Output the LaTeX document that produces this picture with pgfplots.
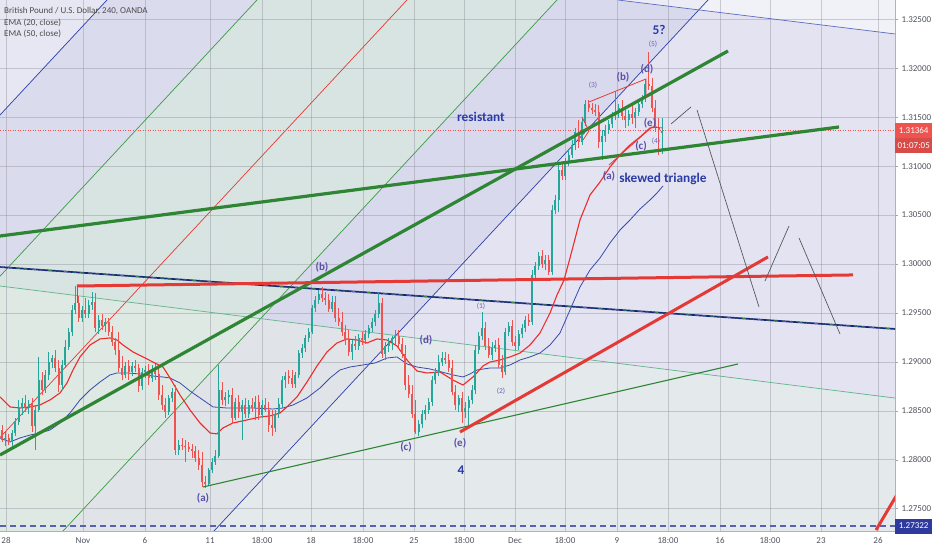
\documentclass[border=0pt]{standalone}
\usepackage{fontspec}
\setmainfont{Carlito}
\usepackage{pgfplots}
\usepackage{pgfplotstable}
\pgfplotsset{compat=1.18}

\definecolor{upc}{HTML}{26A69A}
\definecolor{dnc}{HTML}{EF5350}
\definecolor{ema20}{HTML}{EE2A2A}
\definecolor{ema50}{HTML}{3949AB}
\definecolor{tlgreen}{HTML}{2E8533}
\definecolor{tlred}{HTML}{E53935}
\definecolor{pfblue}{HTML}{2C3EA8}
\definecolor{pfgreen}{HTML}{3C9A46}
\definecolor{navy}{HTML}{1A237E}
\definecolor{chgreen}{HTML}{5FB58A}
\definecolor{chblue}{HTML}{5C6BC0}
\definecolor{bgpale}{HTML}{E7E7F3}
\definecolor{bglav}{HTML}{DBDBEE}
\definecolor{bggreen}{HTML}{D8E4E1}
\definecolor{bglav2}{HTML}{D9D9EE}
\definecolor{bgright}{HTML}{E3E3F2}
\definecolor{bglow}{HTML}{E6EEE6}
\definecolor{wave}{HTML}{5B4FA8}
\definecolor{wavesmall}{HTML}{6B63B5}
\definecolor{note}{HTML}{2B3CA6}
\definecolor{ticktxt}{HTML}{50535E}
\definecolor{lastblue}{HTML}{2E3A9E}

% GBPUSD 4h candles: x position, open, high, low, close
\pgfplotstableread{
x o h l c
2 1.2830 1.2835 1.2818 1.2820
5.3 1.2820 1.2828 1.2814 1.2822
8.7 1.2822 1.2826 1.2815 1.2818
12 1.2818 1.2830 1.2813 1.2827
15.3 1.2827 1.2843 1.2824 1.2838
18.7 1.2838 1.2861 1.2835 1.2853
22 1.2853 1.2863 1.2846 1.2858
25.3 1.2858 1.2866 1.2849 1.2853
28.7 1.2853 1.2861 1.2847 1.2857
32 1.2857 1.2863 1.2828 1.2834
35.3 1.2834 1.2856 1.2810 1.2851
38.7 1.2851 1.2905 1.2849 1.2881
42 1.2881 1.2890 1.2866 1.2871
45.3 1.2871 1.2892 1.2868 1.2887
48.7 1.2887 1.2910 1.2881 1.2900
52 1.2900 1.2907 1.2894 1.2904
55.3 1.2904 1.2912 1.2890 1.2894
58.7 1.2894 1.2902 1.2869 1.2876
62 1.2876 1.2902 1.2871 1.2897
65.3 1.2897 1.2922 1.2894 1.2915
68.7 1.2915 1.2935 1.2912 1.2930
72 1.2930 1.2958 1.2926 1.2953
75.3 1.2953 1.2978 1.2949 1.2960
78.7 1.2960 1.2967 1.2941 1.2945
82 1.2945 1.2957 1.2941 1.2953
85.3 1.2953 1.2965 1.2945 1.2949
88.7 1.2949 1.2963 1.2945 1.2958
92 1.2958 1.2971 1.2953 1.2961
95.3 1.2961 1.2970 1.2930 1.2935
98.7 1.2935 1.2948 1.2928 1.2943
102 1.2943 1.2949 1.2933 1.2937
105.3 1.2937 1.2945 1.2930 1.2941
108.7 1.2941 1.2945 1.2926 1.2930
112 1.2930 1.2937 1.2916 1.2920
115.3 1.2920 1.2924 1.2907 1.2912
118.7 1.2912 1.2930 1.2890 1.2894
122 1.2894 1.2906 1.2881 1.2887
125.3 1.2887 1.2900 1.2883 1.2896
128.7 1.2896 1.2902 1.2881 1.2890
132 1.2890 1.2900 1.2886 1.2896
135.3 1.2896 1.2902 1.2890 1.2894
138.7 1.2894 1.2898 1.2869 1.2875
142 1.2875 1.2894 1.2871 1.2890
145.3 1.2890 1.2896 1.2883 1.2892
148.7 1.2892 1.2898 1.2876 1.2883
152 1.2883 1.2897 1.2879 1.2892
155.3 1.2892 1.2898 1.2881 1.2888
158.7 1.2888 1.2894 1.2861 1.2866
162 1.2866 1.2876 1.2851 1.2856
165.3 1.2856 1.2863 1.2843 1.2849
168.7 1.2849 1.2866 1.2846 1.2863
172 1.2863 1.2873 1.2859 1.2869
175.3 1.2869 1.2876 1.2805 1.2810
178.7 1.2810 1.2820 1.2805 1.2815
182 1.2815 1.2822 1.2810 1.2814
185.3 1.2814 1.2820 1.2798 1.2813
188.7 1.2813 1.2818 1.2808 1.2811
192 1.2811 1.2816 1.2802 1.2809
195.3 1.2809 1.2814 1.2798 1.2802
198.7 1.2802 1.2810 1.2789 1.2795
202 1.2795 1.2808 1.2772 1.2777
205.3 1.2777 1.2783 1.2771 1.2775
208.7 1.2775 1.2791 1.2773 1.2789
212 1.2789 1.2802 1.2786 1.2798
215.3 1.2798 1.2810 1.2795 1.2804
218.7 1.2804 1.2897 1.2802 1.2871
222 1.2871 1.2879 1.2856 1.2861
225.3 1.2861 1.2869 1.2855 1.2864
228.7 1.2864 1.2871 1.2857 1.2866
232 1.2866 1.2873 1.2836 1.2843
235.3 1.2843 1.2863 1.2841 1.2859
238.7 1.2859 1.2866 1.2843 1.2849
242 1.2849 1.2861 1.2820 1.2856
245.3 1.2856 1.2863 1.2843 1.2847
248.7 1.2847 1.2861 1.2843 1.2856
252 1.2856 1.2863 1.2849 1.2853
255.3 1.2853 1.2865 1.2841 1.2859
258.7 1.2859 1.2866 1.2841 1.2846
262 1.2846 1.2861 1.2843 1.2856
265.3 1.2856 1.2863 1.2849 1.2851
268.7 1.2851 1.2859 1.2828 1.2835
272 1.2835 1.2851 1.2824 1.2832
275.3 1.2832 1.2851 1.2828 1.2847
278.7 1.2847 1.2863 1.2843 1.2857
282 1.2857 1.2886 1.2853 1.2881
285.3 1.2881 1.2890 1.2873 1.2886
288.7 1.2886 1.2892 1.2877 1.2883
292 1.2883 1.2892 1.2873 1.2877
295.3 1.2877 1.2890 1.2873 1.2887
298.7 1.2887 1.2912 1.2883 1.2909
302 1.2909 1.2918 1.2904 1.2914
305.3 1.2914 1.2927 1.2910 1.2924
308.7 1.2924 1.2935 1.2920 1.2930
312 1.2930 1.2958 1.2928 1.2955
315.3 1.2955 1.2967 1.2951 1.2963
318.7 1.2963 1.2973 1.2959 1.2969
322 1.2969 1.2976 1.2961 1.2965
325.3 1.2965 1.2971 1.2958 1.2963
328.7 1.2963 1.2969 1.2951 1.2954
332 1.2954 1.2967 1.2951 1.2961
335.3 1.2961 1.2967 1.2941 1.2945
338.7 1.2945 1.2955 1.2937 1.2941
342 1.2941 1.2951 1.2926 1.2930
345.3 1.2930 1.2938 1.2917 1.2922
348.7 1.2922 1.2933 1.2906 1.2910
352 1.2910 1.2922 1.2902 1.2918
355.3 1.2918 1.2926 1.2912 1.2916
358.7 1.2916 1.2928 1.2912 1.2924
362 1.2924 1.2930 1.2917 1.2922
365.3 1.2922 1.2933 1.2918 1.2928
368.7 1.2928 1.2938 1.2924 1.2935
372 1.2935 1.2945 1.2930 1.2941
375.3 1.2941 1.2953 1.2937 1.2949
378.7 1.2949 1.2970 1.2945 1.2960
382 1.2960 1.2965 1.2904 1.2908
385.3 1.2908 1.2920 1.2902 1.2916
388.7 1.2916 1.2924 1.2910 1.2920
392 1.2920 1.2926 1.2912 1.2924
395.3 1.2924 1.2933 1.2917 1.2926
398.7 1.2926 1.2933 1.2914 1.2918
402 1.2918 1.2924 1.2904 1.2908
405.3 1.2908 1.2917 1.2871 1.2876
408.7 1.2876 1.2887 1.2863 1.2867
412 1.2867 1.2876 1.2843 1.2847
415.3 1.2847 1.2861 1.2826 1.2828
418.7 1.2828 1.2841 1.2824 1.2836
422 1.2836 1.2851 1.2832 1.2847
425.3 1.2847 1.2856 1.2841 1.2851
428.7 1.2851 1.2863 1.2847 1.2859
432 1.2859 1.2886 1.2855 1.2881
435.3 1.2881 1.2894 1.2877 1.2890
438.7 1.2890 1.2907 1.2886 1.2900
442 1.2900 1.2910 1.2896 1.2904
445.3 1.2904 1.2910 1.2898 1.2902
448.7 1.2902 1.2908 1.2890 1.2894
452 1.2894 1.2902 1.2866 1.2869
455.3 1.2869 1.2876 1.2851 1.2856
458.7 1.2856 1.2866 1.2849 1.2863
462 1.2863 1.2869 1.2837 1.2849
465.3 1.2849 1.2859 1.2843 1.2853
468.7 1.2853 1.2865 1.2833 1.2861
472 1.2861 1.2876 1.2857 1.2871
475.3 1.2871 1.2917 1.2867 1.2912
478.7 1.2912 1.2930 1.2908 1.2926
482 1.2926 1.2951 1.2922 1.2935
485.3 1.2935 1.2941 1.2912 1.2916
488.7 1.2916 1.2924 1.2904 1.2907
492 1.2907 1.2920 1.2902 1.2914
495.3 1.2914 1.2922 1.2910 1.2917
498.7 1.2917 1.2924 1.2894 1.2897
502 1.2897 1.2907 1.2883 1.2890
505.3 1.2890 1.2935 1.2887 1.2930
508.7 1.2930 1.2941 1.2926 1.2937
512 1.2937 1.2943 1.2916 1.2920
515.3 1.2920 1.2926 1.2912 1.2916
518.7 1.2916 1.2933 1.2912 1.2928
522 1.2928 1.2939 1.2924 1.2935
525.3 1.2935 1.2947 1.2930 1.2943
528.7 1.2943 1.2949 1.2937 1.2941
532 1.2941 1.2994 1.2938 1.2989
535.3 1.2989 1.3002 1.2984 1.2998
538.7 1.2998 1.3012 1.2994 1.3008
542 1.3008 1.3014 1.2996 1.3000
545.3 1.3000 1.3009 1.2994 1.3004
548.7 1.3004 1.3009 1.2989 1.2992
552 1.2992 1.3060 1.2989 1.3055
555.3 1.3055 1.3071 1.3051 1.3065
558.7 1.3065 1.3101 1.3053 1.3096
562 1.3096 1.3104 1.3086 1.3090
565.3 1.3090 1.3108 1.3086 1.3104
568.7 1.3104 1.3117 1.3100 1.3111
572 1.3111 1.3127 1.3108 1.3122
575.3 1.3122 1.3139 1.3117 1.3135
578.7 1.3135 1.3147 1.3119 1.3125
582 1.3125 1.3149 1.3122 1.3145
585.3 1.3145 1.3168 1.3141 1.3164
588.7 1.3164 1.3168 1.3155 1.3159
592 1.3159 1.3165 1.3153 1.3157
595.3 1.3157 1.3164 1.3151 1.3155
598.7 1.3155 1.3162 1.3119 1.3125
602 1.3125 1.3137 1.3106 1.3131
605.3 1.3131 1.3142 1.3125 1.3137
608.7 1.3137 1.3147 1.3133 1.3143
612 1.3143 1.3155 1.3139 1.3151
615.3 1.3151 1.3176 1.3147 1.3155
618.7 1.3155 1.3164 1.3149 1.3159
622 1.3159 1.3168 1.3147 1.3151
625.3 1.3151 1.3159 1.3139 1.3147
628.7 1.3147 1.3157 1.3141 1.3153
632 1.3153 1.3162 1.3143 1.3149
635.3 1.3149 1.3159 1.3139 1.3155
638.7 1.3155 1.3168 1.3151 1.3164
642 1.3164 1.3173 1.3159 1.3170
645.3 1.3170 1.3188 1.3166 1.3184
648.7 1.3184 1.3217 1.3178 1.3182
652 1.3182 1.3190 1.3155 1.3159
655.3 1.3159 1.3168 1.3135 1.3139
658.7 1.3139 1.3149 1.3111 1.3137
662 1.3134 1.3149 1.3112 1.3136
}\candles

% #1 sign range of close-open, #2 colour, #3 line width
\pgfplotsset{
    candle/.style n args={3}{draw=none, mark=none, forget plot,
        restrict expr to domain={\thisrow{c}-\thisrow{o}}{#1},
        error bars/.cd, y dir=plus, y explicit, error mark=none,
        error bar style={draw=#2, solid, line width=#3}},
}

\begin{document}
\begin{tikzpicture}
\begin{axis}[
    set layers,
    scale only axis,
    width=895pt, height=531pt,
    xmin=0, xmax=895,
    ymin=1.27271, ymax=1.32698,
    clip mode=individual,
    axis x line*=bottom,
    axis y line*=right,
    axis line style={color=black!30},
    xtick={6,83,145,210,262,311,363,414,464,515,565,617,668,720,770,821,878},
    xticklabels={28,Nov,6,11,18:00,18,18:00,25,18:00,Dec,18:00,9,18:00,16,18:00,23,26},
    ytick={1.275,1.28,1.285,1.29,1.295,1.3,1.305,1.31,1.315,1.32,1.325},
    scaled y ticks=false,
    yticklabel style={/pgf/number format/fixed, /pgf/number format/fixed zerofill,
        /pgf/number format/precision=5, /pgf/number format/assume math mode=true},
    tick label style={font=\fontsize{9}{10}\selectfont, text=ticktxt},
    xtick style={draw=none},
    ytick style={color=black!35},
    tick align=outside,
    major tick length=3pt,
    grid=major,
    major grid style={color=white!75!blue!18!gray, line width=0.5pt, opacity=0.4},
]

% pitchfork bands
\addplot[on layer=axis background, draw=none, fill=bgpale, forget plot]
    coordinates {(-700,1.32698) (107,1.32698) (-387,1.27271) (-700,1.27271)} -- cycle;
\addplot[on layer=axis background, draw=none, fill=bglav, forget plot]
    coordinates {(107,1.32698) (257,1.32698) (-237,1.27271) (-387,1.27271)} -- cycle;
\addplot[on layer=axis background, draw=none, fill=bggreen, forget plot]
    coordinates {(257,1.32698) (557,1.32698) (63,1.27271) (-237,1.27271)} -- cycle;
\addplot[on layer=axis background, draw=none, fill=bglav2, forget plot]
    coordinates {(557,1.32698) (708,1.32698) (214,1.27271) (63,1.27271)} -- cycle;
\addplot[on layer=axis background, draw=none, fill=bgright, forget plot]
    coordinates {(708,1.32698) (1000,1.32698) (1000,1.27271) (214,1.27271)} -- cycle;
% channel shading
\addplot[on layer=axis background, draw=none, fill=white, fill opacity=0.5, forget plot]
    coordinates {(618,1.32698) (895,1.32351) (895,1.32698)} -- cycle;
\addplot[on layer=axis background, draw=none, fill=bglow, fill opacity=0.55, forget plot]
    coordinates {(0,1.29775) (895,1.28630) (895,1.27271) (0,1.27271)} -- cycle;

% pitchfork lines
\addplot[pfblue, line width=0.7pt] coordinates {(107,1.32698) (-387,1.27271)};
\addplot[pfgreen, line width=0.7pt] coordinates {(257,1.32698) (-237,1.27271)};
\addplot[tlred, line width=0.7pt] coordinates {(407,1.32698) (-87,1.27271)};
\addplot[pfgreen, line width=0.7pt] coordinates {(557,1.32698) (63,1.27271)};
\addplot[pfblue, line width=0.7pt] coordinates {(708,1.32698) (214,1.27271)};

% channel lines
\addplot[chblue, line width=0.7pt] coordinates {(618,1.32698) (895,1.32351)};
\addplot[chgreen, line width=0.7pt] coordinates {(0,1.29775) (895,1.28630)};
\addplot[navy, line width=1.7pt] coordinates {(0,1.29969) (895,1.29336)};
\addplot[pfgreen, line width=0.6pt, dash pattern=on 4pt off 4pt] coordinates {(0,1.29969) (895,1.29336)};

% last price lines
\addplot[dnc, line width=0.6pt, dash pattern=on 1pt off 1.5pt] coordinates {(0,1.31364) (895,1.31364)};
\addplot[lastblue!80!white, line width=1.4pt, dash pattern=on 6pt off 4pt] coordinates {(0,1.27322) (895,1.27322)};

% EMA 50
\addplot[ema50, line width=0.8pt] coordinates {
(0,1.28222) (10,1.28181) (20,1.28222) (30,1.28252) (40,1.28273) (50,1.28303)
(60,1.28375) (70,1.28477) (80,1.28610) (90,1.28712) (100,1.28794) (110,1.28866)
(117,1.28886) (127,1.28886) (140,1.28876) (153,1.28855) (163,1.28845) (170,1.28835)
(180,1.28784) (190,1.28702) (200,1.28631) (213,1.28539) (227,1.28528) (253,1.28528)
(273,1.28518) (283,1.28528) (293,1.28559) (307,1.28631) (320,1.28733) (330,1.28835)
(340,1.28917) (350,1.28947) (363,1.28968) (375,1.28988) (387,1.29039) (397,1.29050)
(407,1.28978) (417,1.28947) (430,1.28927) (453,1.28866) (463,1.28845) (470,1.28876)
(477,1.28917) (490,1.28937) (500,1.28937) (510,1.28968) (520,1.29019) (530,1.29050)
(540,1.29090) (550,1.29172) (560,1.29295) (570,1.29530) (580,1.29765) (590,1.29939)
(600,1.30061) (610,1.30215) (620,1.30347) (630,1.30450) (640,1.30562) (650,1.30654)
(657,1.30726) (663,1.30797)};

% EMA 20
\addplot[ema20, line width=1.1pt] coordinates {
(0,1.28641) (10,1.28539) (20,1.28528) (30,1.28539) (40,1.28559) (50,1.28610)
(60,1.28682) (67,1.28784) (73,1.28917) (80,1.29050) (90,1.29172) (100,1.29234)
(110,1.29244) (117,1.29223) (123,1.29172) (133,1.29101) (143,1.29050) (153,1.28998)
(163,1.28947) (170,1.28835) (180,1.28661) (190,1.28508) (200,1.28375) (210,1.28273)
(217,1.28263) (223,1.28324) (233,1.28375) (247,1.28406) (260,1.28436) (270,1.28447)
(280,1.28477) (287,1.28539) (297,1.28641) (307,1.28794) (317,1.28958) (327,1.29101)
(337,1.29193) (347,1.29234) (357,1.29223) (367,1.29193) (377,1.29234) (387,1.29223)
(397,1.29162) (407,1.29019) (417,1.28906) (427,1.28886) (440,1.28896) (453,1.28814)
(463,1.28763) (473,1.28845) (483,1.28958) (490,1.28998) (500,1.29019) (510,1.29050)
(520,1.29090) (530,1.29172) (540,1.29295) (550,1.29499) (557,1.29683) (564,1.29836)
(570,1.30061) (580,1.30450) (590,1.30705) (600,1.30838) (610,1.30991) (620,1.31114)
(630,1.31216) (640,1.31298) (650,1.31390) (657,1.31400)};

% candles: wicks then bodies
\addplot[candle={0:1}{upc}{0.7pt}]
    table[x=x, y=l, y error expr={\thisrow{h}-\thisrow{l}}] {\candles};
\addplot[candle={-1:0}{dnc}{0.7pt}]
    table[x=x, y=l, y error expr={\thisrow{h}-\thisrow{l}}] {\candles};
\addplot[candle={0:1}{upc}{2.3pt}]
    table[x=x, y=o, y error plus expr={\thisrow{c}-\thisrow{o}}] {\candles};
\addplot[candle={-1:0}{dnc}{2.3pt}]
    table[x=x, y=c, y error plus expr={\thisrow{o}-\thisrow{c}}] {\candles};

% trend lines
\addplot[tlgreen, line width=3.2pt] coordinates {(0,1.30286) (839,1.31400)};
\addplot[tlgreen, line width=3.2pt] coordinates {(0,1.28048) (728,1.32177)};
\addplot[tlgreen, line width=1.1pt] coordinates {(203,1.27721) (738,1.28978)};
\addplot[tlred, line width=0.8pt] coordinates {(77,1.29601) (77,1.29775)};
\addplot[tlred, line width=3pt] coordinates {(77,1.29775) (853,1.29888)};
\addplot[tlred, line width=3pt] coordinates {(460,1.28283) (768,1.30072)};
\addplot[tlred, line width=3pt] coordinates {(876,1.27281) (900,1.27695)};

% triangle outline
\addplot[tlred, line width=0.8pt] coordinates {(589,1.31656) (646,1.31891) (646,1.31707)};
\addplot[tlred, line width=0.8pt] coordinates {(609,1.31012) (652,1.31400) (663,1.31390)};
\addplot[tlred, line width=0.8pt] coordinates {(582,1.31502) (589,1.31359) (583,1.31267)};

% projected path
\addplot[black!65, line width=0.7pt] coordinates {(671,1.31431) (691,1.31605)};
\addplot[black!65, line width=0.7pt] coordinates {(697,1.31574) (759,1.29561)};
\addplot[black!65, line width=0.7pt] coordinates {(765,1.29826) (789,1.30388)};
\addplot[black!65, line width=0.7pt] coordinates {(799,1.30266) (840,1.29285)};

% annotations
\begin{scope}[font=\bfseries\fontsize{13.3}{14}\selectfont, text=note]
\node at (axis cs:481,1.31502) {resistant};
\node at (axis cs:663,1.30869) {skewed triangle};
\node at (axis cs:659,1.32391) {5?};
\node at (axis cs:461,1.27895) {4};
\end{scope}
\begin{scope}[font=\bfseries\fontsize{11}{12}\selectfont, text=wave]
\node at (axis cs:647,1.31993) {(d)};
\node at (axis cs:623,1.31911) {(b)};
\node at (axis cs:650,1.31441) {(e)};
\node at (axis cs:641,1.31206) {(c)};
\node at (axis cs:609,1.30899) {(a)};
\node at (axis cs:322,1.29969) {(b)};
\node at (axis cs:426,1.29223) {(d)};
\node at (axis cs:406,1.28130) {(c)};
\node at (axis cs:460,1.28171) {(e)};
\node at (axis cs:203,1.27609) {(a)};
\end{scope}
\begin{scope}[font=\fontsize{7.5}{8}\selectfont, text=wavesmall]
\node at (axis cs:653,1.32248) {(5)};
\node at (axis cs:593,1.31829) {(3)};
\node at (axis cs:656,1.31257) {(4)};
\node at (axis cs:481,1.29571) {(1)};
\node at (axis cs:501,1.28702) {(2)};
\end{scope}

% header
\begin{scope}[font=\fontsize{9}{10}\selectfont, text=black!70, anchor=west, inner sep=0pt]
\node at (axis cs:4,1.32586) {British Pound / U.S. Dollar, 240, OANDA};
\node at (axis cs:4,1.32463) {EMA (20, close)};
\node at (axis cs:4,1.32351) {EMA (50, close)};
\end{scope}

% price scale labels
\begin{scope}[font=\fontsize{9}{10}\selectfont, text=white, anchor=west,
    inner sep=0pt, minimum height=15pt, minimum width=37pt]
\node[fill=dnc] at (axis cs:895,1.31364) {1.31364};
\node[fill=dnc!90!black] at (axis cs:895,1.31211) {01:07:05};
\node[fill=lastblue] at (axis cs:895,1.27322) {1.27322};
\end{scope}
\end{axis}
\pgfresetboundingbox
\path (0pt,-19pt) rectangle (932pt,531pt);
\end{tikzpicture}
\end{document}
